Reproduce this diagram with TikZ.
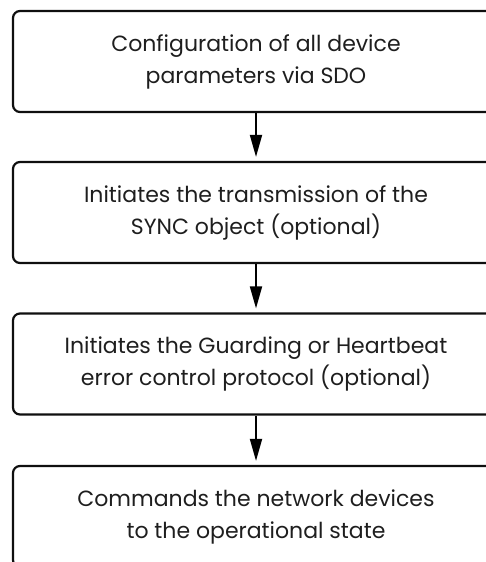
\documentclass[tikz,border=0pt]{standalone}
\usepackage{fontspec}
\setmainfont{Poppins}
\usetikzlibrary{arrows.meta}
\definecolor{box_black}{RGB}{15,15,15}
\definecolor{text_gray}{RGB}{30,30,30}

\begin{document}
\begin{tikzpicture}[x=1pt,y=-1pt,->,>={Triangle[length=22pt,width=12pt]},line width=1.8pt]
    \tikzstyle{phase}=[draw=box_black, rounded corners=7pt, minimum width=486pt, minimum height=101pt, align=center, text=text_gray, font=\fontsize{22}{32}\selectfont, line width=2.2pt]

    \useasboundingbox (0,0) rectangle (486,562);
    \clip (0,0) rectangle (486,562);

    \node[phase] (sdo)   at (256,61.5)  {Configuration of all device\\parameters via SDO};
    \node[phase] (sync)  at (256,212.5) {Initiates the transmission of the\\SYNC object (optional)};
    \node[phase] (guard) at (256,364)   {Initiates the Guarding or Heartbeat\\error control protocol (optional)};
    \node[phase] (oper)  at (256,516.5) {Commands the network devices\\to the operational state};

    \path[shorten >=4pt]
     (sdo)   edge (sync)
     (sync)  edge (guard)
     (guard) edge (oper)
     ;
\end{tikzpicture}
\end{document}
